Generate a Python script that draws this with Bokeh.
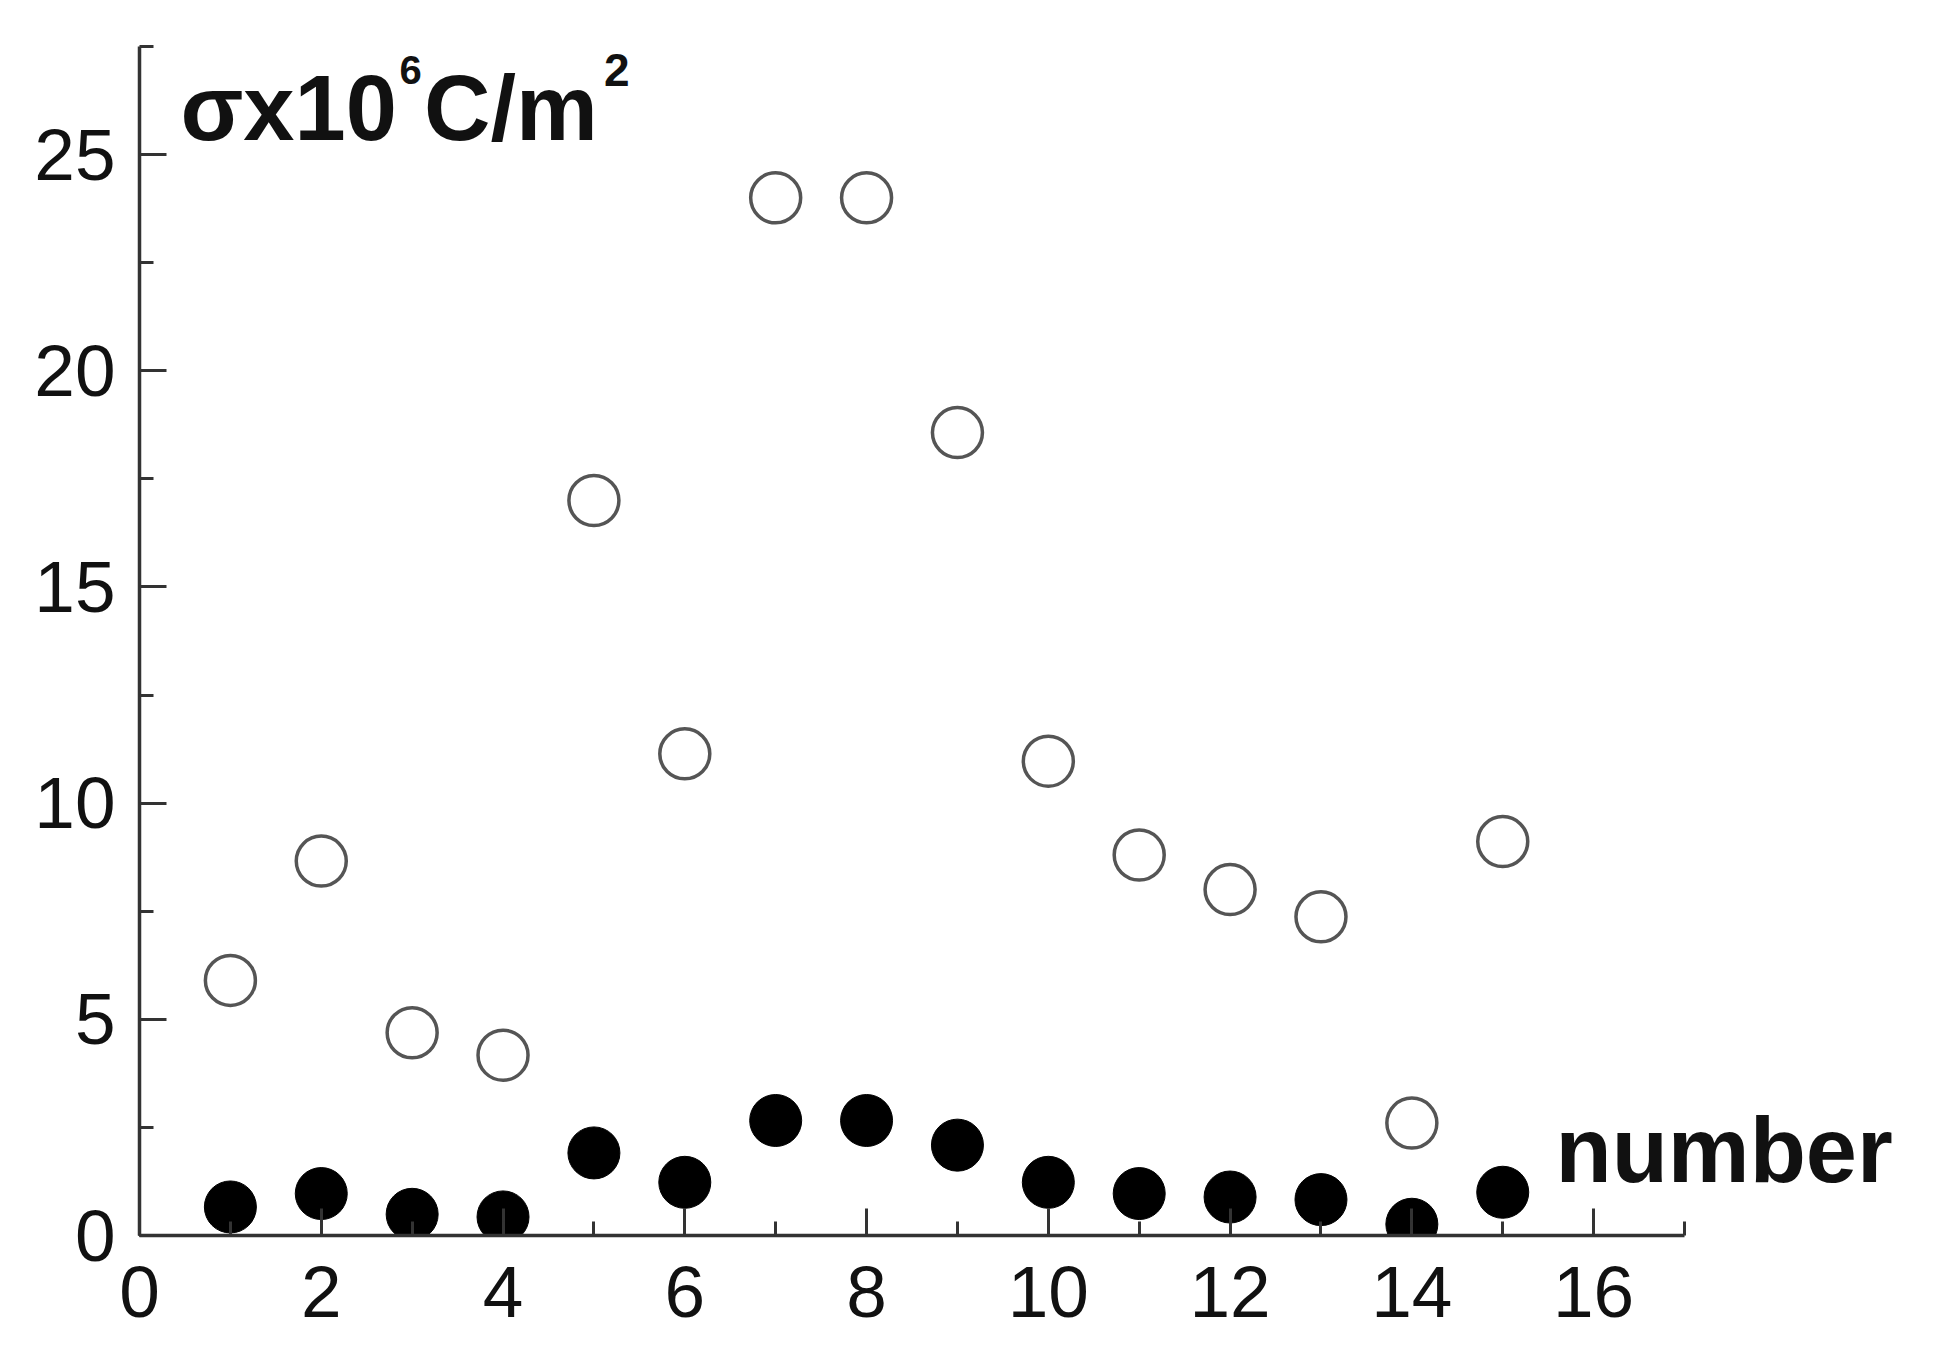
from bokeh.plotting import figure
from bokeh.models import Range1d, SingleIntervalTicker, Label, ColumnDataSource
from bokeh.embed import file_html
from bokeh.resources import INLINE

# data
number = [1, 2, 3, 4, 5, 6, 7, 8, 9, 10, 11, 12, 13, 14, 15]
sigma_open = [5.9, 8.66, 4.69, 4.17, 17.0, 11.14, 24.0, 24.0, 18.57, 10.97, 8.8, 8.0, 7.37, 2.6, 9.11]
sigma_filled = [0.66, 0.97, 0.49, 0.43, 1.91, 1.23, 2.66, 2.66, 2.09, 1.23, 0.97, 0.89, 0.83, 0.26, 1.0]
x_ticks_interval = 2
y_ticks_interval = 5

FONT = "Liberation Sans"

W, H = 1925, 1345
ML, MR, MT, MB = 139, 3, 46, H - 1235
frame_w = W - ML - MR
x_axis_end = 17.0
x_view_end = x_axis_end * frame_w / (1684 - 139)

p = figure(width=W, height=H, output_backend="svg", toolbar_location=None,
           x_range=Range1d(0, x_view_end), y_range=Range1d(0, 27.5),
           min_border_left=ML, min_border_right=MR, min_border_top=MT, min_border_bottom=MB)
p.outline_line_color = None
p.grid.visible = False
p.background_fill_color = "white"
p.border_fill_color = "white"

p.xaxis.ticker = SingleIntervalTicker(interval=x_ticks_interval, num_minor_ticks=2)
p.yaxis.ticker = SingleIntervalTicker(interval=y_ticks_interval, num_minor_ticks=2)
p.xaxis.bounds = (0, x_axis_end)
for ax in (p.xaxis, p.yaxis):
    ax.axis_line_width = 3.5
    ax.axis_line_color = "#333333"
    ax.major_tick_line_color = "#333333"
    ax.minor_tick_line_color = "#333333"
    ax.major_tick_line_width = 3
    ax.minor_tick_line_width = 3
    ax.major_tick_in = 27
    ax.major_tick_out = 0
    ax.minor_tick_in = 14
    ax.minor_tick_out = 0
    ax.major_label_text_font = FONT
    ax.major_label_text_font_size = "73px"
    ax.major_label_text_color = "#111111"
p.xaxis.major_label_standoff = 31
p.yaxis.major_label_standoff = 24

src = ColumnDataSource(dict(x=number, yo=sigma_open, yf=sigma_filled))
p.scatter("x", "yo", source=src, size=50, marker="circle", fill_color="white",
          line_color="#555555", line_width=3.5)
p.scatter("x", "yf", source=src, size=52, marker="circle", fill_color="black",
          line_color="black", line_width=1)

def lab(x, y, t, size):
    p.add_layout(Label(x=x, y=y, text=t, text_font=FONT, text_font_style="bold",
                       text_font_size=f"{size}px", text_color="#111111",
                       text_baseline="alphabetic", text_align="left",
                       y_offset=0.37 * size))

lab(0.45, 25.3, "σx10", 92)
lab(2.86, 26.62, "6", 40)
lab(3.13, 25.3, "C/m", 92)
lab(5.11, 26.57, "2", 46)
lab(15.58, 1.2, "number", 92)

open("out.html", "w").write(file_html(p, INLINE))
